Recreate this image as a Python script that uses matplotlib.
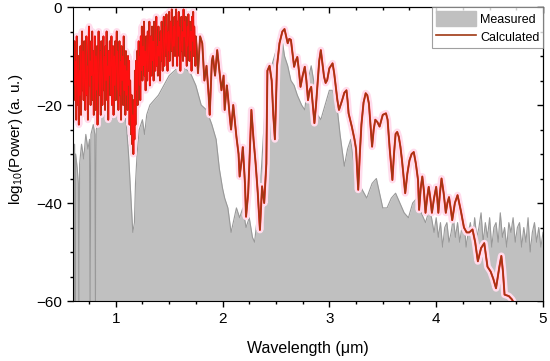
import numpy as np
import matplotlib
matplotlib.use('Agg')
import matplotlib.pyplot as plt
from matplotlib.ticker import MultipleLocator

plt.rcParams['font.family'] = ['Liberation Sans', 'DejaVu Sans']
plt.rcParams['mathtext.default'] = 'regular'

# measured spectrum (wavelength in um, log10 power)
meas_wl = [0.600, 0.615, 0.620, 0.625, 0.640, 0.650, 0.655, 0.662, 0.680, 0.700,
           0.720, 0.740, 0.755, 0.760, 0.768, 0.790, 0.805, 0.810, 0.818, 0.840,
           0.870, 0.900, 0.930, 0.960, 1.000, 1.040, 1.080, 1.100, 1.120, 1.140,
           1.160, 1.175, 1.185, 1.200, 1.220, 1.250, 1.270, 1.290, 1.320, 1.360,
           1.400, 1.450, 1.500, 1.550, 1.600, 1.650, 1.700, 1.750, 1.800, 1.850,
           1.900, 1.940, 1.970, 2.000, 2.020, 2.050, 2.080, 2.100, 2.130, 2.160,
           2.190, 2.220, 2.250, 2.280, 2.300, 2.320, 2.350, 2.380, 2.400, 2.430,
           2.460, 2.500, 2.540, 2.560, 2.580, 2.610, 2.640, 2.670, 2.700, 2.740,
           2.770, 2.800, 2.830, 2.860, 2.890, 2.920, 2.960, 3.000, 3.030, 3.070,
           3.100, 3.140, 3.170, 3.200, 3.230, 3.260, 3.300, 3.350, 3.400, 3.440,
           3.470, 3.500, 3.540, 3.580, 3.620, 3.660, 3.700, 3.740, 3.780, 3.820,
           3.860, 3.900, 3.940, 3.980,
           4.00, 4.02, 4.04, 4.06, 4.08, 4.10, 4.12, 4.14, 4.16, 4.18,
           4.20, 4.22, 4.24, 4.26, 4.28, 4.30, 4.32, 4.34, 4.36, 4.38,
           4.40, 4.42, 4.44, 4.46, 4.48, 4.50, 4.52, 4.54, 4.56, 4.58,
           4.60, 4.62, 4.64, 4.66, 4.68, 4.70, 4.72, 4.74, 4.76, 4.78,
           4.80, 4.82, 4.84, 4.86, 4.88, 4.90, 4.92, 4.94, 4.96, 4.98, 5.00]
meas_db = [-30, -28, -60, -30, -33, -36, -60, -32, -28, -31,
           -26, -29, -27, -60, -26, -24, -26, -60, -25, -23,
           -21, -22, -19, -20, -18, -19, -21, -24, -30, -38,
           -46, -44, -36, -30, -25, -23, -26, -22, -20, -19,
           -18, -16, -14, -13, -12, -12.5, -13.5, -16, -20, -21,
           -24, -27, -33, -37, -39, -41, -46, -44, -41, -43,
           -41, -45, -43, -47, -48, -44, -38, -27, -20, -16,
           -12, -9, -6.5, -7, -10, -12, -15, -16, -18, -20,
           -21, -15, -12, -16, -22, -23, -20, -17, -17, -20,
           -26, -32.5, -29, -27, -32, -36.5, -37, -39, -36, -35,
           -38, -41, -41, -39, -38, -40, -42, -43, -40, -39,
           -42, -44, -41, -46,
           -43, -47, -44, -49, -45, -44, -48, -46, -43, -47,
           -44, -48, -45, -43, -49, -46, -44, -48, -43, -47,
           -45, -42, -48, -44, -47, -43, -49, -45, -44, -48,
           -42, -47, -45, -49, -44, -46, -43, -48, -45, -44,
           -49, -45, -48, -43, -50, -46, -44, -48, -45, -49, -46]

# calculated spectrum: dense noisy part 0.600-1.750 um (0.005 um step)
calc_noisy_db = [
    -21, -9, -16, -7, -19, -11, -23, -6, -14, -20,
    -10, -24, -13, -18, -8, -22, -12, -5, -17, -9,
    -19, -7, -15, -21, -10, -6, -18, -12, -23, -8,
    -4, -16, -11, -20, -7, -14, -5, -19, -9, -22,
    -13, -6, -21, -10, -17, -8, -24, -12, -5, -15,
    -18, -9, -22, -7, -14, -20, -11, -6, -17, -10,
    -21, -8, -15, -5, -19, -12, -23, -9, -14, -7,
    -18, -11, -6, -20, -13, -8, -22, -10, -16, -7,
    -19, -12, -5, -17, -9, -21, -14, -7, -18, -11,
    -23, -8, -15, -10, -20, -6, -17, -12, -22, -9,
    -18, -13, -21, -10, -16, -11, -24, -15, -20, -26,
    -18, -28, -22, -30, -19, -27, -13, -24, -11, -17,
    -9, -20, -12, -7, -16, -10, -19, -6, -13, -4,
    -15, -8, -12, -3, -14, -9, -17, -6, -11, -15,
    -5, -13, -8, -3, -16, -10, -6, -14, -4, -11,
    -7, -15, -3, -10, -13, -6, -2, -12, -8, -14,
    -4, -10, -7, -15, -5, -11, -3, -9, -13, -6,
    -2, -12, -7, -4, -10, -1.5, -8, -13, -5, -9,
    -1, -11, -6, -3, -9, -0.5, -7, -12, -4, -8,
    -2, -10, -5, -0.5, -8, -12, -3, -6, -1, -10,
    -4, -13, -7, -2, -9, -5, -11, -0.5, -6, -3,
    -10, -2, -7, -12, -4, -8, -1.5, -6, -11, -3,
    -9, -5, -13, -2, -7, -1, -10, -4, -8, -12,
    -6]
calc_noisy_wl = [round(0.600 + 0.005 * i, 3) for i in range(len(calc_noisy_db))]

calc_tail_wl = [
    1.76, 1.77, 1.79, 1.81, 1.83, 1.85, 1.87, 1.88, 1.90, 1.91,
    1.93, 1.95, 1.97, 1.99, 2.01, 2.02, 2.04, 2.05, 2.07, 2.08,
    2.10, 2.13, 2.15, 2.16, 2.18, 2.19, 2.21, 2.22, 2.24, 2.25,
    2.27, 2.29, 2.31, 2.33, 2.35, 2.37, 2.39, 2.41,
    2.42, 2.44, 2.46, 2.475, 2.49, 2.51, 2.533, 2.56, 2.58, 2.60,
    2.61, 2.625, 2.64, 2.655, 2.67, 2.685, 2.70, 2.715, 2.73, 2.75,
    2.77, 2.785, 2.80, 2.815, 2.83, 2.845, 2.86, 2.875, 2.89, 2.905,
    2.92, 2.935, 2.95, 2.965, 2.98, 3.00, 3.03, 3.045, 3.06, 3.075,
    3.09, 3.105, 3.12, 3.14, 3.16, 3.17, 3.18, 3.21, 3.235, 3.25,
    3.27, 3.285, 3.30, 3.32, 3.34, 3.355, 3.37, 3.385, 3.40, 3.415,
    3.43, 3.45, 3.47, 3.50, 3.53, 3.545, 3.565, 3.59, 3.605, 3.62,
    3.635, 3.65, 3.665, 3.68, 3.71, 3.73, 3.75, 3.77, 3.79, 3.81,
    3.83, 3.84, 3.855, 3.87, 3.885, 3.90, 3.915, 3.93, 3.945, 3.96,
    3.98, 4.00, 4.01, 4.02, 4.035, 4.05, 4.07, 4.09, 4.105, 4.12,
    4.135, 4.15, 4.175, 4.20, 4.23, 4.26, 4.285, 4.31, 4.34, 4.365,
    4.39, 4.42, 4.45, 4.48, 4.51, 4.535, 4.56, 4.59, 4.61, 4.625,
    4.64, 4.68, 4.71, 4.74]
calc_tail_db = [
    -9, -13.5, -6, -7.4, -15, -12, -18, -22, -11, -10,
    -14, -8.8, -13, -17, -14, -21, -16, -18, -23, -25,
    -20, -26.5, -30, -34.6, -31, -28.6, -36, -42.8, -38, -32.6,
    -21, -27, -32, -38, -45.5, -36.6, -40, -32,
    -13, -12, -15, -22, -27, -12, -7.4, -5, -4.5, -6.5,
    -7.4, -6.5, -6.7, -9.5, -12.2, -11, -10.2, -13, -16.3, -14,
    -12.2, -15, -19, -17, -16.3, -20, -23.7, -20, -15.6, -11,
    -8.8, -11.5, -14.2, -15.5, -14.9, -12.5, -11.5, -13.5, -16.3, -19,
    -21, -20, -19, -17.5, -17, -19, -21.7, -24.4, -27, -29,
    -37.3, -30, -24, -19.5, -17.6, -18, -19.7, -24, -28.5, -25,
    -23, -23.5, -24.4, -22, -21.7, -23, -29, -35.3, -30, -25.9,
    -25.5, -26.5, -28.5, -31.3, -38, -34, -31.3, -30, -29.6, -32,
    -35.3, -41.4, -37, -34.6, -37.5, -42, -39, -36.7, -39, -42,
    -39, -36.7, -39, -42, -38, -35, -38, -42, -40, -38.8,
    -41, -43.5, -40, -38.4, -41.5, -45, -46, -46, -45.4, -48,
    -51.9, -49.2, -48.2, -53, -54, -55.5, -57.4, -53.2, -50.8, -54,
    -58.7, -59, -59.7, -61]

calc_wl = calc_noisy_wl + calc_tail_wl
calc_db = calc_noisy_db + calc_tail_db

DARK_RED = '#a03814'

fig = plt.figure(figsize=(5.5, 3.61), dpi=100)
ax = fig.add_axes([0.1327, 0.1662, 0.8546, 0.8144])

ax.fill_between(meas_wl, meas_db, -60, color='#c0c0c0', lw=0)
ax.plot(meas_wl, meas_db, color='#999999', lw=0.8)

ax.plot(calc_wl, calc_db, color='#ffdcec', lw=5, solid_joinstyle='round')
ax.plot(calc_wl, calc_db, color='#ff2020', lw=1.4)
ax.plot(calc_wl, calc_db, color=DARK_RED, lw=1.1)
# the dense short-wave part looks bright red
ax.plot(calc_noisy_wl, calc_noisy_db, color='#ff1010', lw=0.6)

# legend handles
h_meas = plt.Rectangle((0, 0), 1, 1, color='#c0c0c0')
h_calc, = ax.plot([], [], color=DARK_RED, lw=1.2)
leg = ax.legend([h_meas, h_calc], ['Measured', 'Calculated'], loc='upper right',
                fontsize=9, frameon=True, fancybox=False, borderaxespad=0,
                handlelength=3.2, handleheight=1.5, handletextpad=0.35,
                borderpad=0.3, labelspacing=0.25)
leg.get_frame().set_edgecolor('#888888')
leg.get_frame().set_linewidth(0.8)

ax.set_xlim(0.6, 5)
ax.set_ylim(-60, 0)
ax.xaxis.set_major_locator(MultipleLocator(1))
ax.xaxis.set_minor_locator(MultipleLocator(0.25))
ax.yaxis.set_major_locator(MultipleLocator(20))
ax.yaxis.set_minor_locator(MultipleLocator(5))
ax.tick_params(which='both', direction='out', top=False, right=False, labelsize=11)
ax.tick_params(which='major', length=4.5, width=1)
ax.tick_params(which='minor', length=2.5, width=1)

# inward ticks on top/right
sec_x = ax.secondary_xaxis('top')
sec_x.xaxis.set_major_locator(MultipleLocator(1))
sec_x.xaxis.set_minor_locator(MultipleLocator(0.25))
sec_x.tick_params(which='both', direction='in', labeltop=False)
sec_x.tick_params(which='major', length=4.5, width=1)
sec_x.tick_params(which='minor', length=2.5, width=1)
sec_y = ax.secondary_yaxis('right')
sec_y.yaxis.set_major_locator(MultipleLocator(20))
sec_y.yaxis.set_minor_locator(MultipleLocator(5))
sec_y.tick_params(which='both', direction='in', labelright=False)
sec_y.tick_params(which='major', length=4.5, width=1)
sec_y.tick_params(which='minor', length=2.5, width=1)

ax.set_xlabel('Wavelength (\u03bcm)', fontsize=11.5, labelpad=11)
ax.set_ylabel('log$_{10}$(Power) (a. u.)', fontsize=11)
ax.yaxis.set_label_coords(-0.102, 0.551)
ax.set_yticks([-60, -40, -20, 0])
ax.set_yticklabels(['\u221260', '\u221240', '\u221220', '0'])

fig.savefig('out.png', dpi=100)
